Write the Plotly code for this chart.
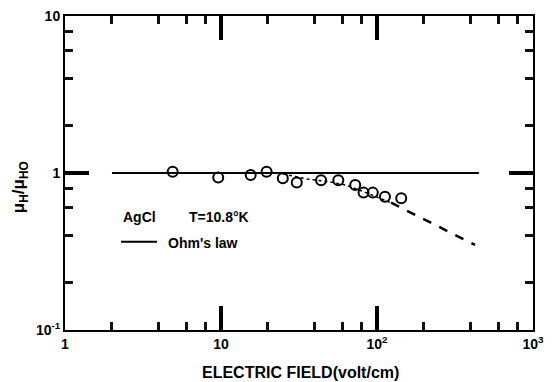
import plotly.graph_objects as go

# Data
field = [4.9, 9.6, 15.5, 19.6, 24.9, 30.6, 43.8, 56.5, 72.5, 82, 94, 112.5, 143]
ratio = [1.02, 0.935, 0.97, 1.02, 0.925, 0.87, 0.90, 0.90, 0.84, 0.75, 0.75, 0.706, 0.69]

ohm_x = [2, 450]
ohm_y = [1, 1]

dot_x = [25, 35.6, 49, 63, 85, 123]
dot_y = [0.985, 0.916, 0.88, 0.838, 0.75, 0.647]

dash_x = [123, 425]
dash_y = [0.647, 0.348]

x_tickvals = [1, 10, 100, 1000]
x_ticktext = ["<b>1</b>", "<b>10</b>", "<b>10<sup>2</sup></b>", "<b>10<sup>3</sup></b>"]
y_tickvals = [0.1, 1, 10]
y_ticktext = ["<b>10<sup>-1</sup></b>", "<b>1</b>", "<b>10</b>"]
minor_x = [2, 4, 6, 8, 20, 40, 60, 80, 200, 400, 600, 800]
minor_y = [0.2, 0.4, 0.6, 0.8, 2, 4, 6, 8]

FONT = "Liberation Sans"

fig = go.Figure()
fig.add_trace(go.Scatter(x=ohm_x, y=ohm_y, mode="lines",
                         line=dict(color="black", width=2), hoverinfo="skip"))
fig.add_trace(go.Scatter(x=dot_x, y=dot_y, mode="lines",
                         line=dict(color="black", width=1.5, dash="dot"), hoverinfo="skip"))
fig.add_trace(go.Scatter(x=dash_x, y=dash_y, mode="lines",
                         line=dict(color="black", width=2.5, dash="dash"), hoverinfo="skip"))
fig.add_trace(go.Scatter(x=field, y=ratio, mode="markers",
                         marker=dict(symbol="circle-open", size=10, color="black",
                                     line=dict(width=2, color="black"))))

tickfont = dict(family=FONT, size=14, color="black")

fig.update_layout(
    xaxis=dict(type="log", range=[0, 3], tickmode="array", tickvals=x_tickvals, ticktext=x_ticktext,
               showline=True, linewidth=2, linecolor="black", ticks="inside", ticklen=24, tickwidth=3.5,
               tickcolor="#000000", mirror="ticks", showgrid=False, tickfont=tickfont,
               minor=dict(tickmode="array", tickvals=minor_x, ticks="inside", ticklen=8,
                          tickwidth=3, tickcolor="#111111")),
    yaxis=dict(type="log", range=[-1, 1], tickmode="array", tickvals=y_tickvals, ticktext=y_ticktext,
               showline=True, linewidth=2, linecolor="black", ticks="inside", ticklen=24, tickwidth=3.5,
               tickcolor="#000000", mirror="ticks", showgrid=False, tickfont=tickfont,
               minor=dict(tickmode="array", tickvals=minor_y, ticks="inside", ticklen=8,
                          tickwidth=3, tickcolor="#111111")),
)

annotations = [
    dict(text="<b>AgCl</b>", x=0.1197, y=0.361, xref="paper", yref="paper",
         xanchor="left", yanchor="middle", showarrow=False, font=dict(family=FONT, size=14, color="black")),
    dict(text="<b>T=10.8°K</b>", x=0.2607, y=0.361, xref="paper", yref="paper",
         xanchor="left", yanchor="middle", showarrow=False, font=dict(family=FONT, size=14, color="black")),
    dict(text="<b>Ohm's law</b>", x=0.2158, y=0.277, xref="paper", yref="paper",
         xanchor="left", yanchor="middle", showarrow=False, font=dict(family=FONT, size=14, color="black")),
    dict(text="<b>ELECTRIC FIELD(volt/cm)</b>", x=0.503, y=-0.134, xref="paper", yref="paper",
         xanchor="center", yanchor="middle", showarrow=False,
         font=dict(family=FONT, size=16, color="black")),
    dict(text="<b>μ<sub>H</sub>/μ<sub>HO</sub></b>", x=-0.096, y=0.455, xref="paper", yref="paper",
         xanchor="center", yanchor="middle", showarrow=False, textangle=-90,
         font=dict(family=FONT, size=17, color="black")),
]

fig.update_layout(
    width=553, height=382,
    margin=dict(l=65, r=20, t=16, b=52, autoexpand=False),
    plot_bgcolor="white", paper_bgcolor="white",
    showlegend=False,
    annotations=annotations,
    shapes=[dict(type="line", xref="paper", yref="paper", x0=0.1197, x1=0.1966,
                 y0=0.2812, y1=0.2812, line=dict(color="black", width=2))],
)

fig.write_html("out.html", config={"displayModeBar": False},
               post_script="document.body.style.margin='0';")
